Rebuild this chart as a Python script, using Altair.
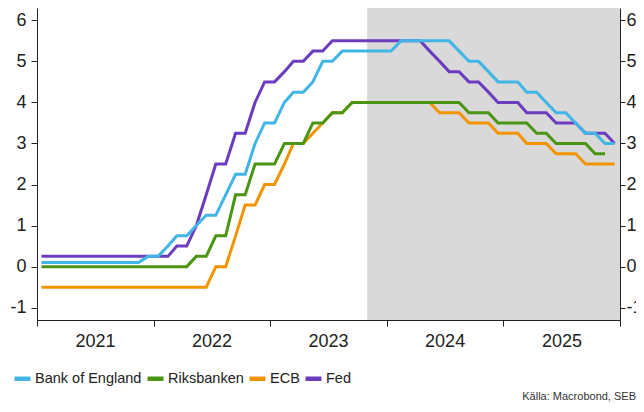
import altair as alt
import pandas as pd

# Monthly observations Jan 2021 .. Dec 2025 (plotted mid-month)
months = [f"{2021 + i // 12}-{i % 12 + 1:02d}-15" for i in range(60)]

boe = [0.1, 0.1, 0.1, 0.1, 0.1, 0.1, 0.1, 0.1, 0.1, 0.1, 0.1, 0.25,
       0.25, 0.5, 0.75, 0.75, 1.0, 1.25, 1.25, 1.75, 2.25, 2.25, 3.0, 3.5,
       3.5, 4.0, 4.25, 4.25, 4.5, 5.0, 5.0, 5.25, 5.25, 5.25, 5.25, 5.25,
       5.25, 5.5, 5.5, 5.5, 5.5, 5.5, 5.5, 5.25, 5.0, 5.0, 4.75, 4.5,
       4.5, 4.5, 4.25, 4.25, 4.0, 3.75, 3.75, 3.5, 3.25, 3.25, 3.0, 3.0]

riksbanken = [0.0, 0.0, 0.0, 0.0, 0.0, 0.0, 0.0, 0.0, 0.0, 0.0, 0.0, 0.0,
              0.0, 0.0, 0.0, 0.0, 0.25, 0.25, 0.75, 0.75, 1.75, 1.75, 2.5, 2.5,
              2.5, 3.0, 3.0, 3.0, 3.5, 3.5, 3.75, 3.75, 4.0, 4.0, 4.0, 4.0,
              4.0, 4.0, 4.0, 4.0, 4.0, 4.0, 4.0, 4.0, 3.75, 3.75, 3.75, 3.5,
              3.5, 3.5, 3.5, 3.25, 3.25, 3.0, 3.0, 3.0, 3.0, 2.75, 2.75]

ecb = [-0.5, -0.5, -0.5, -0.5, -0.5, -0.5, -0.5, -0.5, -0.5, -0.5, -0.5, -0.5,
       -0.5, -0.5, -0.5, -0.5, -0.5, -0.5, 0.0, 0.0, 0.75, 1.5, 1.5, 2.0,
       2.0, 2.5, 3.0, 3.0, 3.25, 3.5, 3.75, 3.75, 4.0, 4.0, 4.0, 4.0,
       4.0, 4.0, 4.0, 4.0, 4.0, 3.75, 3.75, 3.75, 3.5, 3.5, 3.5, 3.25,
       3.25, 3.25, 3.0, 3.0, 3.0, 2.75, 2.75, 2.75, 2.5, 2.5, 2.5, 2.5]

fed = [0.25, 0.25, 0.25, 0.25, 0.25, 0.25, 0.25, 0.25, 0.25, 0.25, 0.25, 0.25,
       0.25, 0.25, 0.5, 0.5, 1.0, 1.75, 2.5, 2.5, 3.25, 3.25, 4.0, 4.5,
       4.5, 4.75, 5.0, 5.0, 5.25, 5.25, 5.5, 5.5, 5.5, 5.5, 5.5, 5.5,
       5.5, 5.5, 5.5, 5.5, 5.25, 5.0, 4.75, 4.75, 4.5, 4.5, 4.25, 4.0,
       4.0, 4.0, 3.75, 3.75, 3.75, 3.5, 3.5, 3.5, 3.25, 3.25, 3.25, 3.0]

series_names = ["Bank of England", "Riksbanken", "ECB", "Fed"]
series_colors = ["#41B6E6", "#4A9614", "#F29400", "#6C3CBF"]

forecast_start = "2023-11-01"
forecast_end = "2026-01-01"

y_ticks = [-1, 0, 1, 2, 3, 4, 5, 6]
year_ticks = [2021, 2022, 2023, 2024, 2025, 2026]

# draw order: Fed bottom, BoE on top
rows = []
for name, vals in [("Fed", fed), ("ECB", ecb), ("Riksbanken", riksbanken), ("Bank of England", boe)]:
    for d, v in zip(months, vals):
        rows.append({"date": d, "value": v, "series": name})
df = pd.DataFrame(rows)

shade_df = pd.DataFrame({"start": [forecast_start], "end": [forecast_end]})
note_df = pd.DataFrame({"t": ["Källa: Macrobond, SEB"]})

FONT = "Liberation Sans"

x_scale = alt.Scale(type="utc",
                    domain=[alt.DateTime(year=2021, month=1, date=1, utc=True),
                            alt.DateTime(year=2026, month=1, date=1, utc=True)])
y_scale = alt.Scale(domain=[-1.3, 6.3], nice=False, zero=False)

x_axis = alt.Axis(
    values=[alt.DateTime(year=y, month=1, date=1, utc=True) for y in year_ticks],
    labelExpr="utcyear(datum.value) >= 2026 ? '' : utcFormat(datum.value, '%Y')",
    labelOffset=58, labelPadding=6, tickSize=6, labelFontSize=18,
    labelFlush=False, grid=False, title=None,
    domainColor="#222", tickColor="#222", labelColor="#222",
)

shade = alt.Chart(shade_df).mark_rect(color="#d9d9d9").encode(
    x=alt.X("start:T", scale=x_scale, axis=x_axis),
    x2="end:T",
)

lines = alt.Chart(df).mark_line(strokeWidth=3).encode(
    x=alt.X("date:T", scale=x_scale, axis=x_axis),
    y=alt.Y("value:Q", scale=y_scale,
            axis=alt.Axis(values=y_ticks, labelExpr="'' + datum.value", tickSize=6,
                          labelPadding=5, labelFontSize=18, grid=False, title=None,
                          domainColor="#222", tickColor="#222", labelColor="#222")),
    color=alt.Color("series:N",
                    scale=alt.Scale(domain=series_names, range=series_colors),
                    legend=alt.Legend(title=None, orient="none", direction="horizontal",
                                      legendX=-25, legendY=360,
                                      symbolType="stroke", symbolSize=256,
                                      symbolStrokeWidth=4.5, labelOffset=2,
                                      columnPadding=-4, labelFontSize=14.5,
                                      labelColor="#222")),
    detail="series:N",
)

right_axis = alt.Chart(df).mark_line(opacity=0).encode(
    x=alt.X("date:T", scale=x_scale, axis=x_axis),
    y=alt.Y("value:Q", scale=y_scale,
            axis=alt.Axis(orient="right", values=y_ticks, labelExpr="'' + datum.value",
                          tickSize=5, labelPadding=1, labelFontSize=18, grid=False,
                          title=None, domainColor="#222", tickColor="#222",
                          labelColor="#222")),
    detail="series:N",
)

note = alt.Chart(note_df).mark_text(align="right", baseline="middle", fontSize=11,
                                    color="#333", font=FONT).encode(
    text="t:N", x=alt.value(599), y=alt.value(389)
)

chart = alt.layer(shade, lines, right_axis, note).resolve_axis(y="independent").properties(
    width=583, height=312,
    autosize=alt.AutoSizeParams(type="none"),
    padding={"left": 29, "top": 0, "right": 16, "bottom": 84},
    title=alt.TitleParams("Procent", fontSize=18, font=FONT, fontWeight="normal",
                          color="#222", offset=4),
).configure(font=FONT).configure_view(stroke=None)

chart.save("out.html", embed_options={"renderer": "svg", "actions": False})
